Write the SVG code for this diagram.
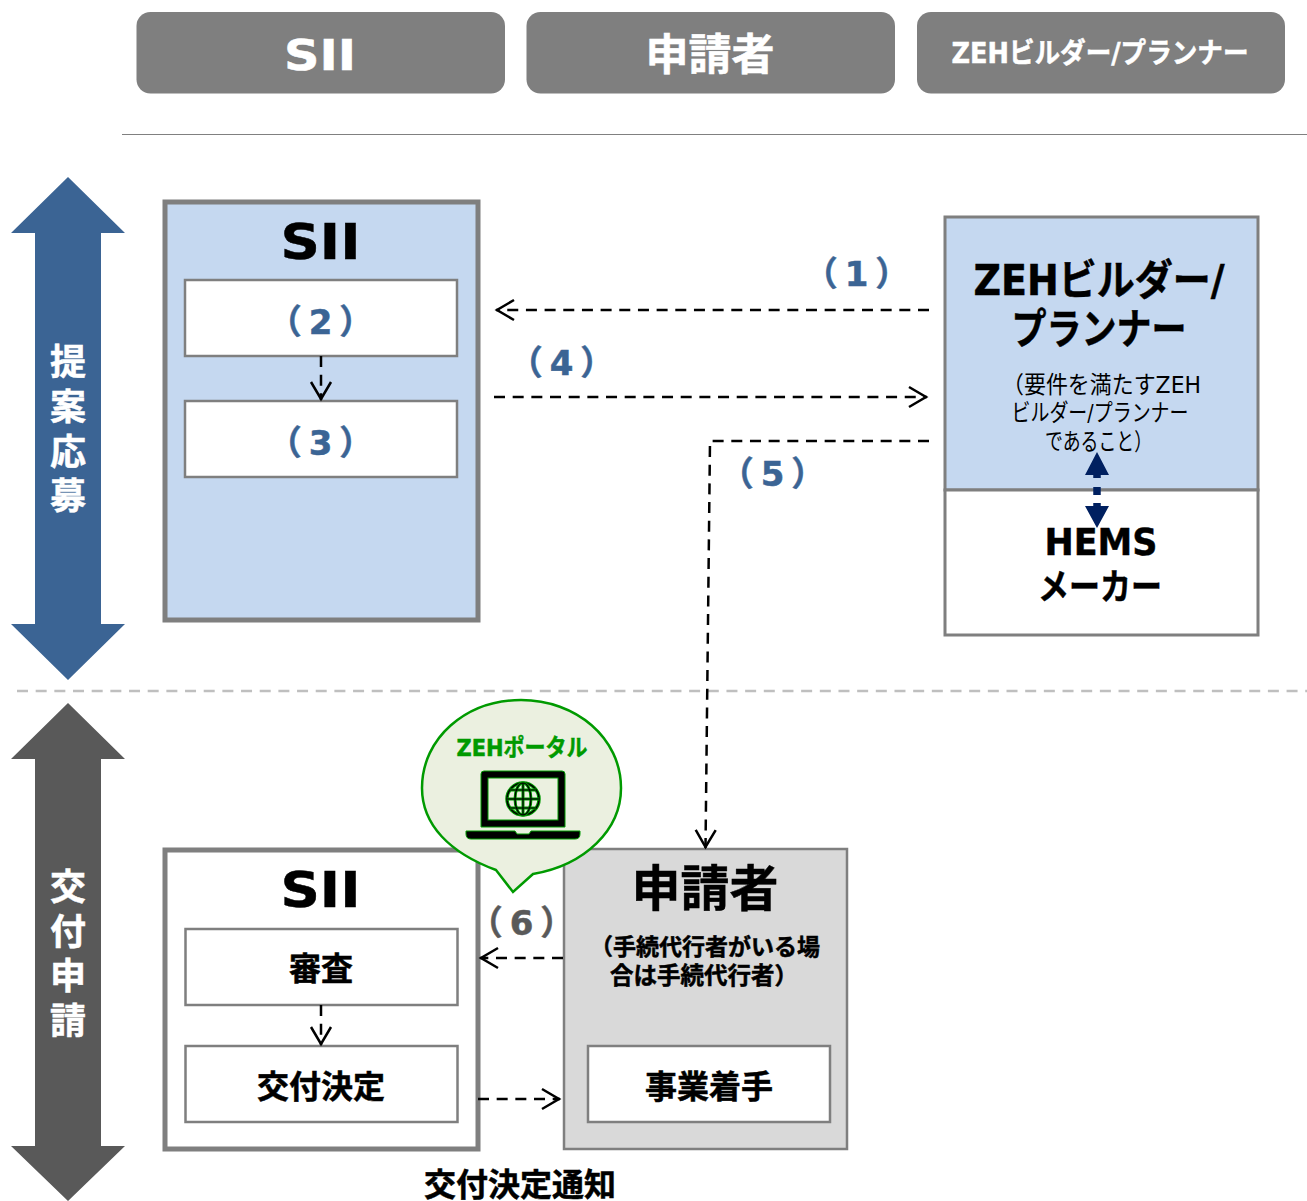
<svg xmlns="http://www.w3.org/2000/svg" width="1307" height="1201" viewBox="0 0 1307 1201">
<style>
text{font-family:"DejaVu Sans","Noto Sans CJK JP",sans-serif;font-weight:700;text-anchor:middle;fill:#000;stroke:#000;stroke-width:.5px}
.hd{fill:#7f7f7f}
.hdt{fill:#fff;stroke:#fff}
.inner{fill:#fff;stroke:#7f7f7f;stroke-width:2.500}
.num{fill:#3b6494;stroke:#3b6494;font-size:34px;letter-spacing:7px}
.d{fill:none;stroke:#000;stroke-width:2.500;stroke-dasharray:11 7.670}
.vt{fill:#fff;stroke:#fff;font-size:36px}
.note{font-weight:400;stroke:none;font-size:23.500px}
</style>
<defs>
<marker id="a" markerUnits="userSpaceOnUse" markerWidth="24" markerHeight="26" refX="21" refY="13" orient="auto"><path d="M3 3L20 13L3 23" fill="none" stroke="#000" stroke-width="2.500"/></marker>
</defs>
<g id="header-sii"><rect class="hd" x="136.500" y="12" width="368.500" height="81.500" rx="14"/><text class="hdt" x="320" y="70" font-size="43" textLength="72" lengthAdjust="spacingAndGlyphs">SII</text></g>
<g id="header-applicant"><rect class="hd" x="526.500" y="12" width="368.500" height="81.500" rx="14"/><text class="hdt" x="710" y="70" font-size="43">申請者</text></g>
<g id="header-builder"><rect class="hd" x="917" y="12" width="368" height="81.500" rx="14"/><text class="hdt" x="1100" y="63" font-size="28" textLength="297" lengthAdjust="spacingAndGlyphs">ZEHビルダー/プランナー</text></g>
<line x1="122" y1="134.500" x2="1307" y2="134.500" stroke="#808080" stroke-width="1"/>
<line x1="17" y1="691" x2="1307" y2="691" stroke="#bfbfbf" stroke-width="2.500" stroke-dasharray="11 7.670"/>
<g id="arrow-proposal"><path d="M68 177L125 233H101V624H125L68 680L11 624H35V233H11Z" fill="#3b6494"/><text class="vt" x="68" y="375">提</text><text class="vt" x="68" y="420">案</text><text class="vt" x="68" y="465">応</text><text class="vt" x="68" y="509">募</text></g>
<g id="arrow-application"><path d="M68 703L125 759H101V1146H125L68 1201L11 1146H35V759H11Z" fill="#595959"/><text class="vt" x="68" y="900">交</text><text class="vt" x="68" y="945">付</text><text class="vt" x="68" y="989">申</text><text class="vt" x="68" y="1034">請</text></g>
<g id="sii-top"><rect x="165" y="202" width="313" height="418" fill="#c5d8f0" stroke="#7f7f7f" stroke-width="5"/><text x="320.500" y="259" font-size="50" textLength="80" lengthAdjust="spacingAndGlyphs">SII</text>
<rect class="inner" x="185" y="280" width="272" height="76"/><text class="num" x="324" y="334">（2）</text>
<rect class="inner" x="185" y="401" width="272" height="76"/><text class="num" x="324" y="455">（3）</text></g>
<g id="builder"><rect x="945" y="217" width="313" height="273" fill="#c5d8f0" stroke="#7f7f7f" stroke-width="3"/><text x="1099" y="295" font-size="42" textLength="251" lengthAdjust="spacingAndGlyphs">ZEHビルダー/</text><text x="1099" y="344" font-size="42" textLength="175" lengthAdjust="spacingAndGlyphs">プランナー</text>
<text class="note" x="1101.500" y="393" textLength="199" lengthAdjust="spacingAndGlyphs">（要件を満たすZEH</text><text class="note" x="1100" y="421" textLength="177" lengthAdjust="spacingAndGlyphs">ビルダー/プランナー</text><text class="note" x="1098.500" y="450" textLength="107" lengthAdjust="spacingAndGlyphs">であること）</text></g>
<g id="hems"><rect x="945" y="490" width="313" height="145" fill="#fff" stroke="#7f7f7f" stroke-width="3"/><text x="1101" y="555" font-size="38" textLength="113" lengthAdjust="spacingAndGlyphs">HEMS</text><text x="1100" y="600" font-size="36" textLength="124" lengthAdjust="spacingAndGlyphs">メーカー</text></g>
<g id="sii-bottom"><rect x="165" y="850" width="313" height="299" fill="#fff" stroke="#7f7f7f" stroke-width="5"/><text x="320.500" y="907" font-size="50" textLength="80" lengthAdjust="spacingAndGlyphs">SII</text>
<rect class="inner" x="185.500" y="929" width="272" height="76"/><text x="321" y="980" font-size="32">審査</text>
<rect class="inner" x="185.500" y="1046" width="272" height="76"/><text x="321" y="1098" font-size="32">交付決定</text></g>
<g id="applicant"><rect x="564" y="849" width="283" height="300" fill="#d9d9d9" stroke="#7f7f7f" stroke-width="2.500"/><text x="705" y="906" font-size="49">申請者</text><text x="705" y="955" font-size="23">（手続代行者がいる場</text><text x="704" y="984" font-size="23.500">合は手続代行者）</text>
<rect x="588" y="1046" width="242" height="76" fill="#fff" stroke="#7f7f7f" stroke-width="2.500"/><text x="709" y="1098" font-size="32">事業着手</text></g>
<g id="portal"><path d="M496 870C450 853 422 825 422 788C422 738 466 700 521 700C576 700 621 738 621 788C621 830 585 865 533 874L513 892Z" fill="#ebf0e0" stroke="#009a00" stroke-width="2.500"/>
<text x="522" y="756" font-size="23.500" style="fill:#009a00;stroke:#009a00" textLength="131" lengthAdjust="spacingAndGlyphs">ZEHポータル</text>
<path d="M484 771H562Q565 771 565 774V827H481V774Q481 771 484 771Z" fill="#000" stroke="#009a00"/><rect x="488" y="778" width="70" height="42" fill="#ebf0e0" stroke="#009a00"/>
<g fill="none"><circle cx="523" cy="799" r="16" stroke="#009a00" stroke-width="3.500"/><circle cx="523" cy="799" r="16" stroke="#000" stroke-width="1.500"/><g stroke="#009a00" stroke-width="3"><ellipse cx="523" cy="799" rx="8" ry="16"/><line x1="523" y1="783" x2="523" y2="815"/><line x1="507" y1="799" x2="539" y2="799"/><path d="M510 790H536M510 808H536"/></g><g stroke="#000" stroke-width="1.200"><ellipse cx="523" cy="799" rx="8" ry="16"/><line x1="523" y1="783" x2="523" y2="815"/><line x1="507" y1="799" x2="539" y2="799"/><path d="M510 790H536M510 808H536"/></g></g>
<path d="M466 831H515L517 834H529L531 831H580V834Q580 839 575 839H471Q466 839 466 834Z" fill="#000" stroke="#009a00"/></g>
<g id="connectors">
<path class="d" d="M929 310H496" marker-end="url(#a)"/>
<path class="d" d="M494 397H927" marker-end="url(#a)"/>
<path class="d" d="M929 441H710L705.500 848" marker-end="url(#a)"/>
<path class="d" d="M321 356V400" marker-end="url(#a)"/>
<path class="d" d="M321 1005V1045" marker-end="url(#a)"/>
<path class="d" d="M563 958H480" marker-end="url(#a)"/>
<path class="d" d="M478 1099H560" marker-end="url(#a)"/>
<path d="M1097 475V478M1097 487V495M1097 503V506" fill="none" stroke="#002060" stroke-width="7.500"/>
<path d="M1097 452L1109 475H1085Z M1097 528L1085 506H1109Z" fill="#002060"/>
</g>
<g id="labels">
<text class="num" x="860" y="286">（1）</text>
<text class="num" x="565" y="375">（4）</text>
<text class="num" x="776" y="486">（5）</text>
<text class="num" x="525" y="935" style="fill:#595959;stroke:#595959">（6）</text>
<text x="520" y="1196" font-size="32">交付決定通知</text>
</g>
</svg>
